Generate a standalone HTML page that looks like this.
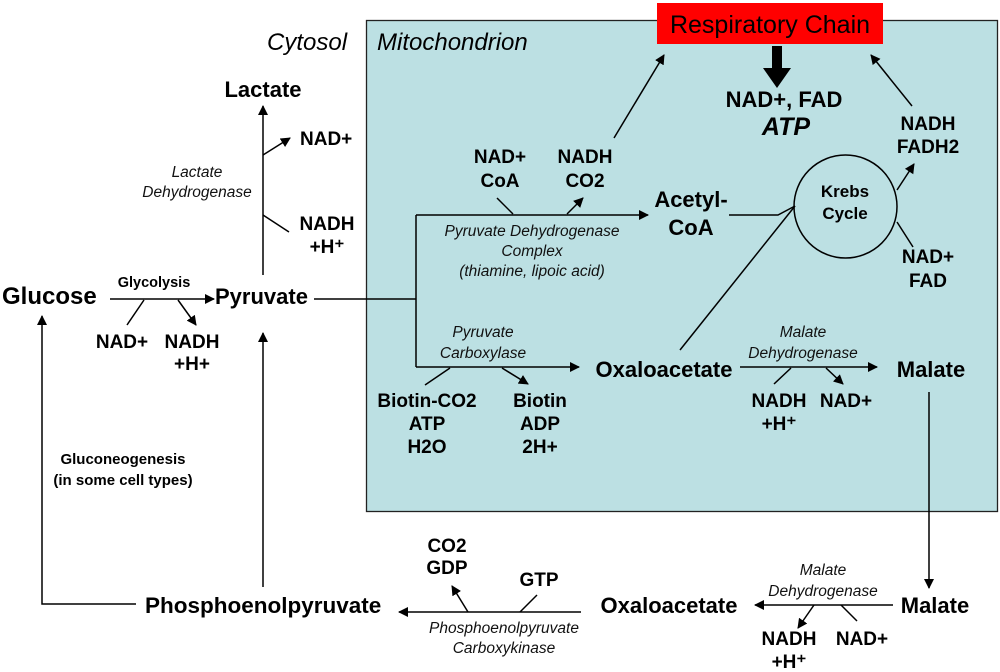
<!DOCTYPE html>
<html><head><meta charset="utf-8"><style>
html,body{margin:0;padding:0;background:#fff;}
svg{display:block;}
text{font-family:"Liberation Sans",Arial,sans-serif;}
.b{font-weight:bold;font-size:19px;}
.B{font-weight:bold;font-size:22px;}
.i{font-style:italic;font-size:15.5px;fill:#111;}
</style></head><body>
<svg width="1000" height="672" viewBox="0 0 1000 672" xmlns="http://www.w3.org/2000/svg">
<defs>
<marker id="a" markerWidth="10" markerHeight="10" refX="9" refY="5" orient="auto" markerUnits="userSpaceOnUse">
<path d="M0,0 L10,5 L0,10 z" fill="#000"/></marker>
</defs>
<rect x="366.5" y="20.5" width="631" height="491" fill="#bce0e3" stroke="#222" stroke-width="1.3"/>
<rect x="657" y="3" width="226" height="41" fill="#ff0000"/>
<text x="770" y="33" font-size="25" text-anchor="middle">Respiratory Chain</text>
<text x="267" y="50" font-size="24" font-style="italic">Cytosol</text>
<text x="377" y="50" font-size="24" font-style="italic">Mitochondrion</text>
<path d="M772,46 h10 v22 h9 l-14,20 l-14,-20 h9 z" fill="#000"/>
<text x="784" y="107" class="B" text-anchor="middle">NAD+, FAD</text>
<text x="786" y="135" font-size="25" font-weight="bold" font-style="italic" text-anchor="middle">ATP</text>
<g stroke="#000" stroke-width="1.5" fill="none">
<line x1="614" y1="138" x2="664" y2="55" marker-end="url(#a)"/>
<line x1="912" y1="106" x2="871" y2="55" marker-end="url(#a)"/>
<line x1="263" y1="275" x2="263" y2="106" marker-end="url(#a)"/>
<line x1="263" y1="155" x2="290" y2="138" marker-end="url(#a)"/>
<line x1="263" y1="215" x2="289" y2="232"/>
<line x1="110" y1="299" x2="214" y2="299" marker-end="url(#a)"/>
<line x1="144" y1="300" x2="127" y2="325"/>
<line x1="178" y1="300" x2="196" y2="325" marker-end="url(#a)"/>
<polyline points="314,299 416,299"/>
<line x1="416" y1="215" x2="416" y2="367"/>
<line x1="416" y1="215" x2="648" y2="215" marker-end="url(#a)"/>
<line x1="497" y1="198" x2="513" y2="214"/>
<line x1="567" y1="214" x2="583" y2="198" marker-end="url(#a)"/>
<line x1="416" y1="367" x2="579" y2="367" marker-end="url(#a)"/>
<line x1="450" y1="368" x2="425" y2="385"/>
<line x1="502" y1="368" x2="528" y2="384" marker-end="url(#a)"/>
<polyline points="729,215 778,215 795,206"/>
<line x1="680" y1="350" x2="795" y2="206"/>
<circle cx="845.5" cy="206.5" r="51.5"/>
<line x1="897" y1="190" x2="914" y2="164" marker-end="url(#a)"/>
<line x1="897" y1="222" x2="913" y2="247"/>
<line x1="740" y1="367" x2="877" y2="367" marker-end="url(#a)"/>
<line x1="791" y1="368" x2="774" y2="384"/>
<line x1="826" y1="368" x2="843" y2="384" marker-end="url(#a)"/>
<line x1="929" y1="392" x2="929" y2="588" marker-end="url(#a)"/>
<line x1="893" y1="605" x2="755" y2="605" marker-end="url(#a)"/>
<line x1="814" y1="605" x2="798" y2="628" marker-end="url(#a)"/>
<line x1="841" y1="605" x2="857" y2="621"/>
<line x1="581" y1="612" x2="399" y2="612" marker-end="url(#a)"/>
<line x1="468" y1="612" x2="452" y2="586" marker-end="url(#a)"/>
<line x1="520" y1="612" x2="537" y2="595"/>
<line x1="263" y1="587" x2="263" y2="333" marker-end="url(#a)"/>
<polyline points="136,604 42,604 42,316" marker-end="url(#a)"/>
</g>
<text x="928" y="130" class="b" text-anchor="middle">NADH</text>
<text x="928" y="153" class="b" text-anchor="middle">FADH2</text>
<text x="928" y="263" class="b" text-anchor="middle">NAD+</text>
<text x="928" y="287" class="b" text-anchor="middle">FAD</text>
<text x="845" y="197" font-size="17" font-weight="bold" text-anchor="middle">Krebs</text>
<text x="845" y="219" font-size="17" font-weight="bold" text-anchor="middle">Cycle</text>
<text x="691" y="207" class="B" text-anchor="middle">Acetyl-</text>
<text x="691" y="235" class="B" text-anchor="middle">CoA</text>
<text x="500" y="163" class="b" text-anchor="middle">NAD+</text>
<text x="500" y="187" class="b" text-anchor="middle">CoA</text>
<text x="585" y="163" class="b" text-anchor="middle">NADH</text>
<text x="585" y="187" class="b" text-anchor="middle">CO2</text>
<text x="532" y="236" class="i" text-anchor="middle">Pyruvate Dehydrogenase</text>
<text x="532" y="256" class="i" text-anchor="middle">Complex</text>
<text x="532" y="276" class="i" text-anchor="middle">(thiamine, lipoic acid)</text>
<text x="483" y="337" class="i" text-anchor="middle">Pyruvate</text>
<text x="483" y="358" class="i" text-anchor="middle">Carboxylase</text>
<text x="427" y="407" class="b" text-anchor="middle">Biotin-CO2</text>
<text x="427" y="430" class="b" text-anchor="middle">ATP</text>
<text x="427" y="453" class="b" text-anchor="middle">H2O</text>
<text x="540" y="407" class="b" text-anchor="middle">Biotin</text>
<text x="540" y="430" class="b" text-anchor="middle">ADP</text>
<text x="540" y="453" class="b" text-anchor="middle">2H+</text>
<text x="664" y="377" class="B" text-anchor="middle">Oxaloacetate</text>
<text x="803" y="337" class="i" text-anchor="middle">Malate</text>
<text x="803" y="358" class="i" text-anchor="middle">Dehydrogenase</text>
<text x="779" y="407" class="b" text-anchor="middle">NADH</text>
<text x="779" y="430" class="b" text-anchor="middle">+H⁺</text>
<text x="846" y="407" class="b" text-anchor="middle">NAD+</text>
<text x="931" y="377" class="B" text-anchor="middle">Malate</text>
<text x="263" y="97" class="B" text-anchor="middle">Lactate</text>
<text x="300" y="145" class="b">NAD+</text>
<text x="327" y="230" class="b" text-anchor="middle">NADH</text>
<text x="327" y="253" class="b" text-anchor="middle">+H⁺</text>
<text x="197" y="177" class="i" text-anchor="middle">Lactate</text>
<text x="197" y="197" class="i" text-anchor="middle">Dehydrogenase</text>
<text x="2" y="304" font-size="24" font-weight="bold">Glucose</text>
<text x="154" y="287" font-size="14.5" font-weight="bold" text-anchor="middle">Glycolysis</text>
<text x="215" y="304" class="B">Pyruvate</text>
<text x="122" y="348" class="b" text-anchor="middle">NAD+</text>
<text x="192" y="348" class="b" text-anchor="middle">NADH</text>
<text x="192" y="370" class="b" text-anchor="middle">+H+</text>
<text x="123" y="464" font-size="15" font-weight="bold" text-anchor="middle">Gluconeogenesis</text>
<text x="123" y="485" font-size="15" font-weight="bold" text-anchor="middle">(in some cell types)</text>
<text x="145" y="613" font-size="22.5" font-weight="bold">Phosphoenolpyruvate</text>
<text x="447" y="552" class="b" text-anchor="middle">CO2</text>
<text x="447" y="574" class="b" text-anchor="middle">GDP</text>
<text x="539" y="586" class="b" text-anchor="middle">GTP</text>
<text x="504" y="633" class="i" text-anchor="middle">Phosphoenolpyruvate</text>
<text x="504" y="653" class="i" text-anchor="middle">Carboxykinase</text>
<text x="669" y="613" class="B" text-anchor="middle">Oxaloacetate</text>
<text x="823" y="575" class="i" text-anchor="middle">Malate</text>
<text x="823" y="596" class="i" text-anchor="middle">Dehydrogenase</text>
<text x="789" y="645" class="b" text-anchor="middle">NADH</text>
<text x="789" y="668" class="b" text-anchor="middle">+H⁺</text>
<text x="862" y="645" class="b" text-anchor="middle">NAD+</text>
<text x="935" y="613" class="B" text-anchor="middle">Malate</text>
</svg>
</body></html>
